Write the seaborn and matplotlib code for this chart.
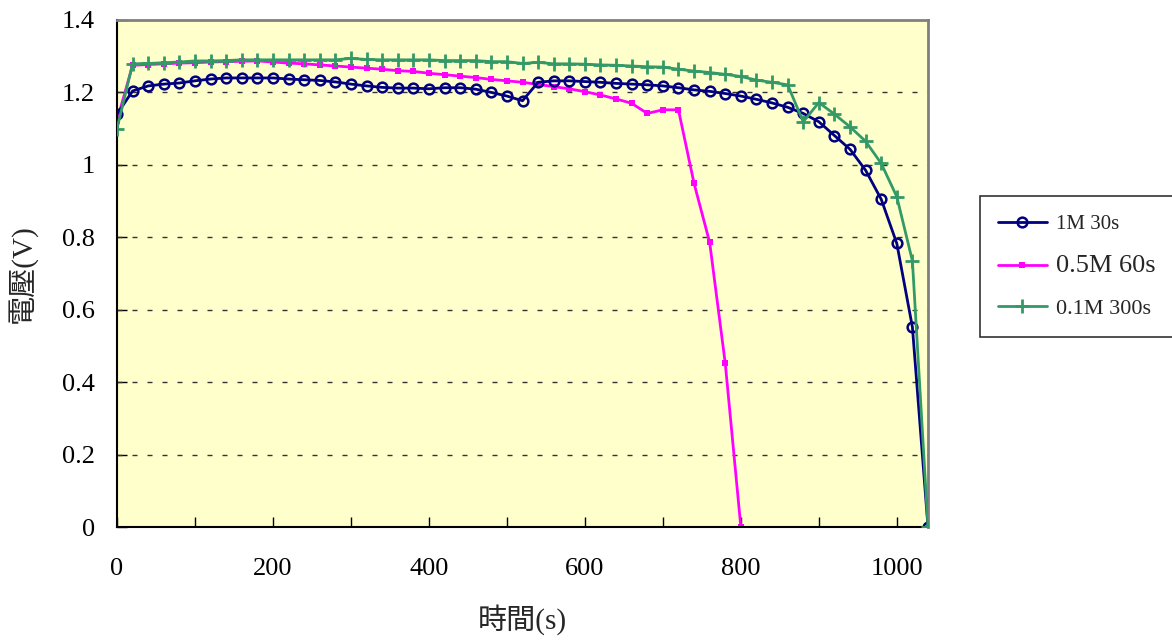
import matplotlib
matplotlib.use("Agg")
import matplotlib.pyplot as plt
import seaborn as sns
import numpy as np
import pandas as pd
from matplotlib.ticker import MultipleLocator

sns.set_theme(style="white")
plt.rcParams['font.family'] = ['Liberation Serif', 'Noto Sans CJK TC', 'DejaVu Sans']

# ---- data ----
time_long = list(range(0, 1041, 20))
time_short = list(range(0, 801, 20))

v_1m_30s = [1.14, 1.204, 1.218, 1.223, 1.226, 1.232, 1.237, 1.24, 1.24, 1.24,
            1.24, 1.237, 1.235, 1.233, 1.229, 1.223, 1.218, 1.214, 1.212, 1.212,
            1.21, 1.213, 1.213, 1.209, 1.2, 1.19, 1.177, 1.228, 1.232, 1.232,
            1.23, 1.228, 1.225, 1.223, 1.221, 1.218, 1.213, 1.207, 1.203, 1.197,
            1.19, 1.181, 1.171, 1.159, 1.142, 1.119, 1.081, 1.043, 0.985, 0.905,
            0.783, 0.552, 0.0]

v_05m_60s = [1.122, 1.275, 1.277, 1.279, 1.281, 1.282, 1.284, 1.285, 1.286, 1.287,
             1.284, 1.281, 1.279, 1.276, 1.273, 1.27, 1.267, 1.264, 1.26, 1.258,
             1.253, 1.249, 1.245, 1.241, 1.236, 1.232, 1.228, 1.222, 1.216, 1.21,
             1.202, 1.193, 1.182, 1.17, 1.142, 1.152, 1.152, 0.949, 0.786, 0.452,
             0.0]

v_01m_300s = [1.10, 1.279, 1.28, 1.282, 1.284, 1.287, 1.287, 1.288, 1.29, 1.29,
              1.29, 1.29, 1.29, 1.29, 1.29, 1.294, 1.291, 1.29, 1.29, 1.29,
              1.29, 1.288, 1.288, 1.288, 1.285, 1.285, 1.28, 1.283, 1.279, 1.279,
              1.278, 1.276, 1.275, 1.273, 1.271, 1.27, 1.264, 1.259, 1.255, 1.25,
              1.244, 1.234, 1.228, 1.221, 1.119, 1.172, 1.14, 1.105, 1.065, 1.004,
              0.912, 0.735, 0.0]

labels = ["1M 30s", "0.5M 60s", "0.1M 300s"]
x_ticks = [0, 200, 400, 600, 800, 1000]
y_ticks = [0, 0.2, 0.4, 0.6, 0.8, 1, 1.2, 1.4]
y_tick_labels = ["0", "0.2", "0.4", "0.6", "0.8", "1", "1.2", "1.4"]

fig = plt.figure(figsize=(11.72, 6.42), dpi=100)
ax = fig.add_axes([117/1172, 1-527/642, (928-117)/1172, (527-20)/642])
ax.set_facecolor('#FFFFCC')

navy = '#000080'
magenta = '#FF00FF'
green = '#339966'

sns.lineplot(x=time_short, y=v_05m_60s, ax=ax, color=magenta, lw=2,
             marker='s', markersize=4, markeredgewidth=0, label=labels[1], zorder=2)
sns.lineplot(x=time_long, y=v_1m_30s, ax=ax, color=navy, lw=2,
             marker='o', markersize=7, markerfacecolor='none',
             markeredgecolor=navy, markeredgewidth=1.8, label=labels[0], zorder=3)
sns.lineplot(x=time_long, y=v_01m_300s, ax=ax, color=green, lw=2,
             marker='+', markersize=10, markeredgewidth=2, markeredgecolor=green,
             label=labels[2], zorder=4)

ax.set_xlim(0, 1040)
ax.set_ylim(0, 1.4)
ax.set_xticks(x_ticks)
ax.xaxis.set_minor_locator(MultipleLocator(100))
ax.set_yticks(y_ticks)
ax.set_yticklabels(y_tick_labels)

for yv in y_ticks[1:-1]:
    ax.axhline(yv, color='#333333', lw=1, linestyle=(0, (3.6, 7.2)), zorder=1)

ax.tick_params(axis='x', which='both', direction='in', length=7, width=1, pad=22,
               labelsize=19, colors='black', bottom=True)
ax.tick_params(axis='y', which='both', direction='in', length=7, width=1, pad=16,
               labelsize=19, colors='black', left=True)

for side in ['left', 'bottom']:
    ax.spines[side].set_color('black')
    ax.spines[side].set_linewidth(1.5)
for side in ['top', 'right']:
    ax.spines[side].set_color('#808080')
    ax.spines[side].set_linewidth(2)

ax.set_xlabel("時間(s)", fontsize=21, labelpad=18)
ax.set_ylabel("電壓(V)", fontsize=21, labelpad=18)

handles, lbls = ax.get_legend_handles_labels()
order = [lbls.index(l) for l in labels]
handles = [handles[i] for i in order]
ax.get_legend().remove()
leg = fig.legend(handles, labels, loc='upper left', bbox_to_anchor=(980/1172, 1-196/642),
                 borderaxespad=0, frameon=True, fancybox=False, edgecolor='black',
                 handlelength=2.2, borderpad=0.8, labelspacing=0.95,
                 handletextpad=0.4, fontsize=16)
leg.get_frame().set_linewidth(1.2)
sizes = [15, 19, 16]
for t, s in zip(leg.get_texts(), sizes):
    t.set_fontsize(s)

fig.savefig("out.png", dpi=100)
